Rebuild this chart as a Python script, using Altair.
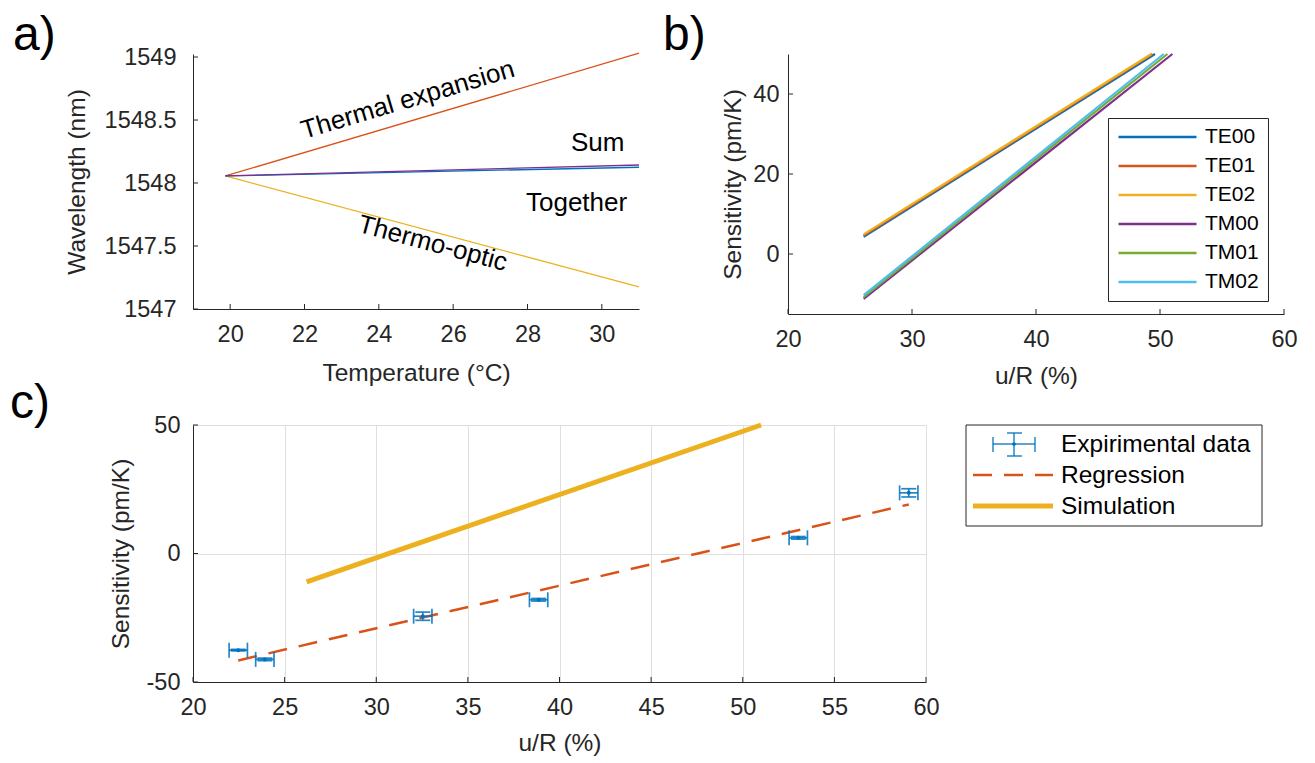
import altair as alt
import pandas as pd

FONT = "Liberation Sans"
INK = "#262626"

# ---------------- panel a data ----------------
a_series = ["Thermal expansion", "Thermo-optic", "Together", "Sum"]
a_colors = ["#D95319", "#EDB120", "#0072BD", "#7E2F8E"]
a_temp = [19.87, 31.0]
a_wl_thermal_expansion = [1548.056, 1549.03]
a_wl_thermo_optic = [1548.056, 1547.175]
a_wl_together = [1548.056, 1548.125]
a_wl_sum = [1548.056, 1548.143]
a_xticks = [20, 22, 24, 26, 28, 30]
a_yticks = [1547, 1547.5, 1548, 1548.5, 1549]
a_notes = ["Thermal expansion", "Sum", "Together", "Thermo-optic"]
a_note_x = [24.78, 29.89, 29.32, 25.45]
a_note_y = [1548.66, 1548.32, 1547.84, 1547.52]

# ---------------- panel b data ----------------
b_modes = ["TE00", "TE01", "TE02", "TM00", "TM01", "TM02"]
b_colors = ["#0072BD", "#D95319", "#EDB120", "#7E2F8E", "#77AC30", "#4DBEEE"]
b_u_start = [26.1, 26.1, 26.1, 26.1, 26.1, 26.1]
b_s_start = [4.3, 4.6, 4.9, -11.2, -10.8, -10.3]
b_u_end = [49.6, 49.4, 49.3, 51.0, 50.6, 50.3]
b_s_end = [50, 50, 50, 50, 50, 50]
b_xticks = [20, 30, 40, 50, 60]
b_yticks = [0, 20, 40]

# ---------------- panel c data ----------------
exp_u = [22.47, 23.92, 32.54, 38.86, 53.03, 59.06]
exp_s = [-37.6, -41.2, -24.4, -18.0, 6.1, 23.6]
exp_u_err = [0.5, 0.5, 0.5, 0.5, 0.5, 0.5]
exp_s_err = [0.3, 0.5, 1.6, 0.5, 0.5, 1.6]
reg_u = [22.47, 59.06]
reg_s = [-41.6, 19.1]
sim_u = [26.2, 51.0]
sim_s = [-11.0, 50.0]
c_xticks = [20, 25, 30, 35, 40, 45, 50, 55, 60]
c_yticks = [-50, 0, 50]
c_legend_labels = ["Expirimental data", "Regression", "Simulation"]


def axis(values, title, grid=False, label_pad=12, title_pad=10):
    return alt.Axis(
        values=values, title=title, grid=grid, ticks=False, tickSize=0,
        labelPadding=label_pad, labelFont=FONT, labelFontSize=23.5, labelColor=INK,
        labelExpr="'' + datum.value", labelFlush=False, labelOverlap=False,
        titleFont=FONT, titleFontSize=24.5, titleColor=INK, titleFontWeight="normal",
        titlePadding=title_pad, domainColor=INK, domainWidth=1,
        gridColor="#dfdfdf", gridWidth=1,
    )


def tag(letter, dx, dy):
    return alt.Chart(pd.DataFrame({"tag": [letter]})).mark_text(
        font=FONT, fontSize=48, align="left", baseline="alphabetic", color="black"
    ).encode(x=alt.value(dx), y=alt.value(dy), text="tag:N")


# ================= panel a =================
AW, AH = 446, 255
xa_scale = alt.Scale(domain=[19, 31], nice=False, zero=False)
ya_scale = alt.Scale(domain=[1547, 1549.024], nice=False, zero=False)
xa_axis = axis(a_xticks, "Temperature (°C)", label_pad=13, title_pad=16)
ya_axis = axis(a_yticks, "Wavelength (nm)", label_pad=17, title_pad=15)

a_lines = pd.DataFrame({
    "T": a_temp * 4,
    "wl": a_wl_thermal_expansion + a_wl_thermo_optic + a_wl_together + a_wl_sum,
    "series": [s for s in a_series for _ in a_temp],
})
a_line_layer = alt.Chart(a_lines).mark_line(strokeWidth=1.3).encode(
    x=alt.X("T:Q", scale=xa_scale, axis=xa_axis),
    y=alt.Y("wl:Q", scale=ya_scale, axis=ya_axis),
    color=alt.Color("series:N", scale=alt.Scale(domain=a_series, range=a_colors), legend=None),
)
a_xt = alt.Chart(pd.DataFrame({"T": a_xticks})).mark_rule(color=INK).encode(
    x=alt.X("T:Q", scale=xa_scale, axis=xa_axis), y=alt.value(AH), y2=alt.value(AH - 5))
a_yt = alt.Chart(pd.DataFrame({"wl": a_yticks})).mark_rule(color=INK).encode(
    y=alt.Y("wl:Q", scale=ya_scale, axis=ya_axis), x=alt.value(0), x2=alt.value(5))
a_angles = [343.5, 0, 0, 15]
a_note_layers = []
for i in range(len(a_notes)):
    a_note_layers.append(
        alt.Chart(pd.DataFrame({"T": [a_note_x[i]], "wl": [a_note_y[i]], "note": [a_notes[i]]}))
        .mark_text(font=FONT, fontSize=26, angle=a_angles[i], color="black")
        .encode(x=alt.X("T:Q", scale=xa_scale, axis=xa_axis),
                y=alt.Y("wl:Q", scale=ya_scale, axis=ya_axis), text="note:N")
    )
panel_a = alt.layer(a_line_layer, a_xt, a_yt, *a_note_layers, tag("a)", -180, -4)).properties(
    width=AW, height=AH)

# ================= panel b =================
BW, BH = 496, 260
xb_scale = alt.Scale(domain=[20, 60], nice=False, zero=False)
yb_scale = alt.Scale(domain=[-15, 50], nice=False, zero=False)
xb_axis = axis(b_xticks, "u/R (%)", label_pad=13, title_pad=14)
yb_axis = axis(b_yticks, "Sensitivity (pm/K)", label_pad=9, title_pad=7)

b_lines = pd.DataFrame({
    "u": [v for pair in zip(b_u_start, b_u_end) for v in pair],
    "s": [v for pair in zip(b_s_start, b_s_end) for v in pair],
    "mode": [m for m in b_modes for _ in range(2)],
})
b_color = alt.Color(
    "mode:N", scale=alt.Scale(domain=b_modes, range=b_colors),
    legend=alt.Legend(
        title=None, orient="none", legendX=320, legendY=64,
        symbolType="stroke", symbolSize=6084, symbolStrokeWidth=2.5,
        clipHeight=20, rowPadding=8, padding=9, labelOffset=7,
        labelFont=FONT, labelFontSize=21, labelColor="black",
        strokeColor=INK, fillColor="white",
    ),
)
b_line_layers = []
for m in b_modes:
    b_line_layers.append(
        alt.Chart(b_lines).transform_filter(alt.datum.mode == m).mark_line(strokeWidth=2.2).encode(
            x=alt.X("u:Q", scale=xb_scale, axis=xb_axis),
            y=alt.Y("s:Q", scale=yb_scale, axis=yb_axis),
            color=b_color,
        )
    )
b_xt = alt.Chart(pd.DataFrame({"u": b_xticks})).mark_rule(color=INK).encode(
    x=alt.X("u:Q", scale=xb_scale, axis=xb_axis), y=alt.value(BH), y2=alt.value(BH - 5))
b_yt = alt.Chart(pd.DataFrame({"s": b_yticks})).mark_rule(color=INK).encode(
    y=alt.Y("s:Q", scale=yb_scale, axis=yb_axis), x=alt.value(0), x2=alt.value(5))
panel_b = alt.layer(*b_line_layers, b_xt, b_yt, tag("b)", -125, -4)).properties(width=BW, height=BH)

# ================= panel c =================
CW, CH = 733, 257
EB = "#0072BD"
xc_scale = alt.Scale(domain=[20, 60], nice=False, zero=False)
yc_scale = alt.Scale(domain=[-50, 50], nice=False, zero=False)
xc_axis = axis(c_xticks, "u/R (%)", grid=True, label_pad=13, title_pad=13)
yc_axis = axis(c_yticks, "Sensitivity (pm/K)", grid=True, label_pad=13, title_pad=13)


def X(field):
    return alt.X(field, scale=xc_scale, axis=xc_axis)


def Y(field):
    return alt.Y(field, scale=yc_scale, axis=yc_axis)


exp_df = pd.DataFrame({"u": exp_u, "s": exp_s})
exp_df["u_lo"] = [u - e for u, e in zip(exp_u, exp_u_err)]
exp_df["u_hi"] = [u + e for u, e in zip(exp_u, exp_u_err)]
exp_df["s_lo"] = [s - e for s, e in zip(exp_s, exp_s_err)]
exp_df["s_hi"] = [s + e for s, e in zip(exp_s, exp_s_err)]
base = alt.Chart(exp_df)
eb_style = dict(color=EB, opacity=0.85)
c_xerr = base.mark_rule(strokeWidth=1.7, **eb_style).encode(x=X("u_lo:Q"), x2="u_hi:Q", y=Y("s:Q"))
c_yerr = base.mark_rule(strokeWidth=1.7, **eb_style).encode(x=X("u:Q"), y=Y("s_lo:Q"), y2="s_hi:Q")
c_xcap_lo = base.mark_tick(orient="vertical", size=15, thickness=1.7, **eb_style).encode(x=X("u_lo:Q"), y=Y("s:Q"))
c_xcap_hi = base.mark_tick(orient="vertical", size=15, thickness=1.7, **eb_style).encode(x=X("u_hi:Q"), y=Y("s:Q"))
c_ycap_lo = base.mark_tick(orient="horizontal", size=15, thickness=1.7, **eb_style).encode(x=X("u:Q"), y=Y("s_lo:Q"))
c_ycap_hi = base.mark_tick(orient="horizontal", size=15, thickness=1.7, **eb_style).encode(x=X("u:Q"), y=Y("s_hi:Q"))
c_dot = base.mark_point(filled=True, size=16, color=EB, opacity=1).encode(x=X("u:Q"), y=Y("s:Q"))

c_reg = alt.Chart(pd.DataFrame({"u": reg_u, "s": reg_s})).mark_line(
    color="#D95319", strokeWidth=2.5, strokeDash=[19, 12]).encode(x=X("u:Q"), y=Y("s:Q"))
c_sim = alt.Chart(pd.DataFrame({"u": sim_u, "s": sim_s})).mark_line(
    color="#EDB120", strokeWidth=5).encode(x=X("u:Q"), y=Y("s:Q"))

c_xt = alt.Chart(pd.DataFrame({"u": c_xticks})).mark_rule(color=INK).encode(
    x=X("u:Q"), y=alt.value(CH), y2=alt.value(CH - 5))
c_yt = alt.Chart(pd.DataFrame({"s": c_yticks})).mark_rule(color=INK).encode(
    y=Y("s:Q"), x=alt.value(0), x2=alt.value(5))

# custom legend for panel c (drawn in pixel space to the right of the plot)
one = alt.Chart(pd.DataFrame({"k": [0]}))
L = 3  # small horizontal nudge of the legend block
leg_box = one.mark_rect(fill="white", stroke=INK, strokeWidth=1).encode(
    x=alt.value(770 + L), x2=alt.value(1066 + L), y=alt.value(0), y2=alt.value(101))
lg_eb = [
    one.mark_rule(**eb_style, strokeWidth=1.5).encode(x=alt.value(797 + L), x2=alt.value(839 + L), y=alt.value(19)),
    one.mark_rule(**eb_style, strokeWidth=1.5).encode(x=alt.value(797 + L), y=alt.value(12), y2=alt.value(27)),
    one.mark_rule(**eb_style, strokeWidth=1.5).encode(x=alt.value(839 + L), y=alt.value(12), y2=alt.value(27)),
    one.mark_rule(**eb_style, strokeWidth=1.5).encode(x=alt.value(818 + L), y=alt.value(8), y2=alt.value(31)),
    one.mark_rule(**eb_style, strokeWidth=1.5).encode(x=alt.value(811 + L), x2=alt.value(826 + L), y=alt.value(8)),
    one.mark_rule(**eb_style, strokeWidth=1.5).encode(x=alt.value(811 + L), x2=alt.value(826 + L), y=alt.value(31)),
    one.mark_point(filled=True, size=14, color=EB, opacity=1).encode(x=alt.value(818 + L), y=alt.value(19)),
]
lg_reg = one.mark_rule(color="#D95319", strokeWidth=2.5, strokeDash=[19, 12]).encode(
    x=alt.value(777 + L), x2=alt.value(857 + L), y=alt.value(50))
lg_sim = one.mark_rule(color="#EDB120", strokeWidth=5).encode(
    x=alt.value(777 + L), x2=alt.value(857 + L), y=alt.value(81))
lg_text = []
for lab, yy in zip(c_legend_labels, [20, 51, 82]):
    lg_text.append(
        alt.Chart(pd.DataFrame({"lab": [lab]})).mark_text(
            font=FONT, fontSize=24.5, align="left", baseline="middle", color="black"
        ).encode(x=alt.value(865 + L), y=alt.value(yy), text="lab:N")
    )

panel_c = alt.layer(
    c_sim, c_reg, c_xerr, c_yerr, c_xcap_lo, c_xcap_hi, c_ycap_lo, c_ycap_hi, c_dot,
    c_xt, c_yt, leg_box, *lg_eb, lg_reg, lg_sim, *lg_text, tag("c)", -183, -7),
).properties(width=CW, height=CH)

# top row: plot areas 149 px apart; the flush outer stack offsets panel c
# from the top row's origin by (row height + gap)
top = alt.hconcat(panel_a, panel_b, spacing=149, bounds="flush").resolve_scale(
    color="independent").resolve_legend(color="independent")
chart = alt.vconcat(top, panel_c, spacing=AH + 116, bounds="flush").resolve_scale(
    color="independent").resolve_legend(color="independent").properties(
    padding={"left": 2, "top": 4, "right": 5, "bottom": 5}, background="white"
).configure_view(stroke=None)

chart.save("out.html", embed_options={"renderer": "svg", "actions": False})
